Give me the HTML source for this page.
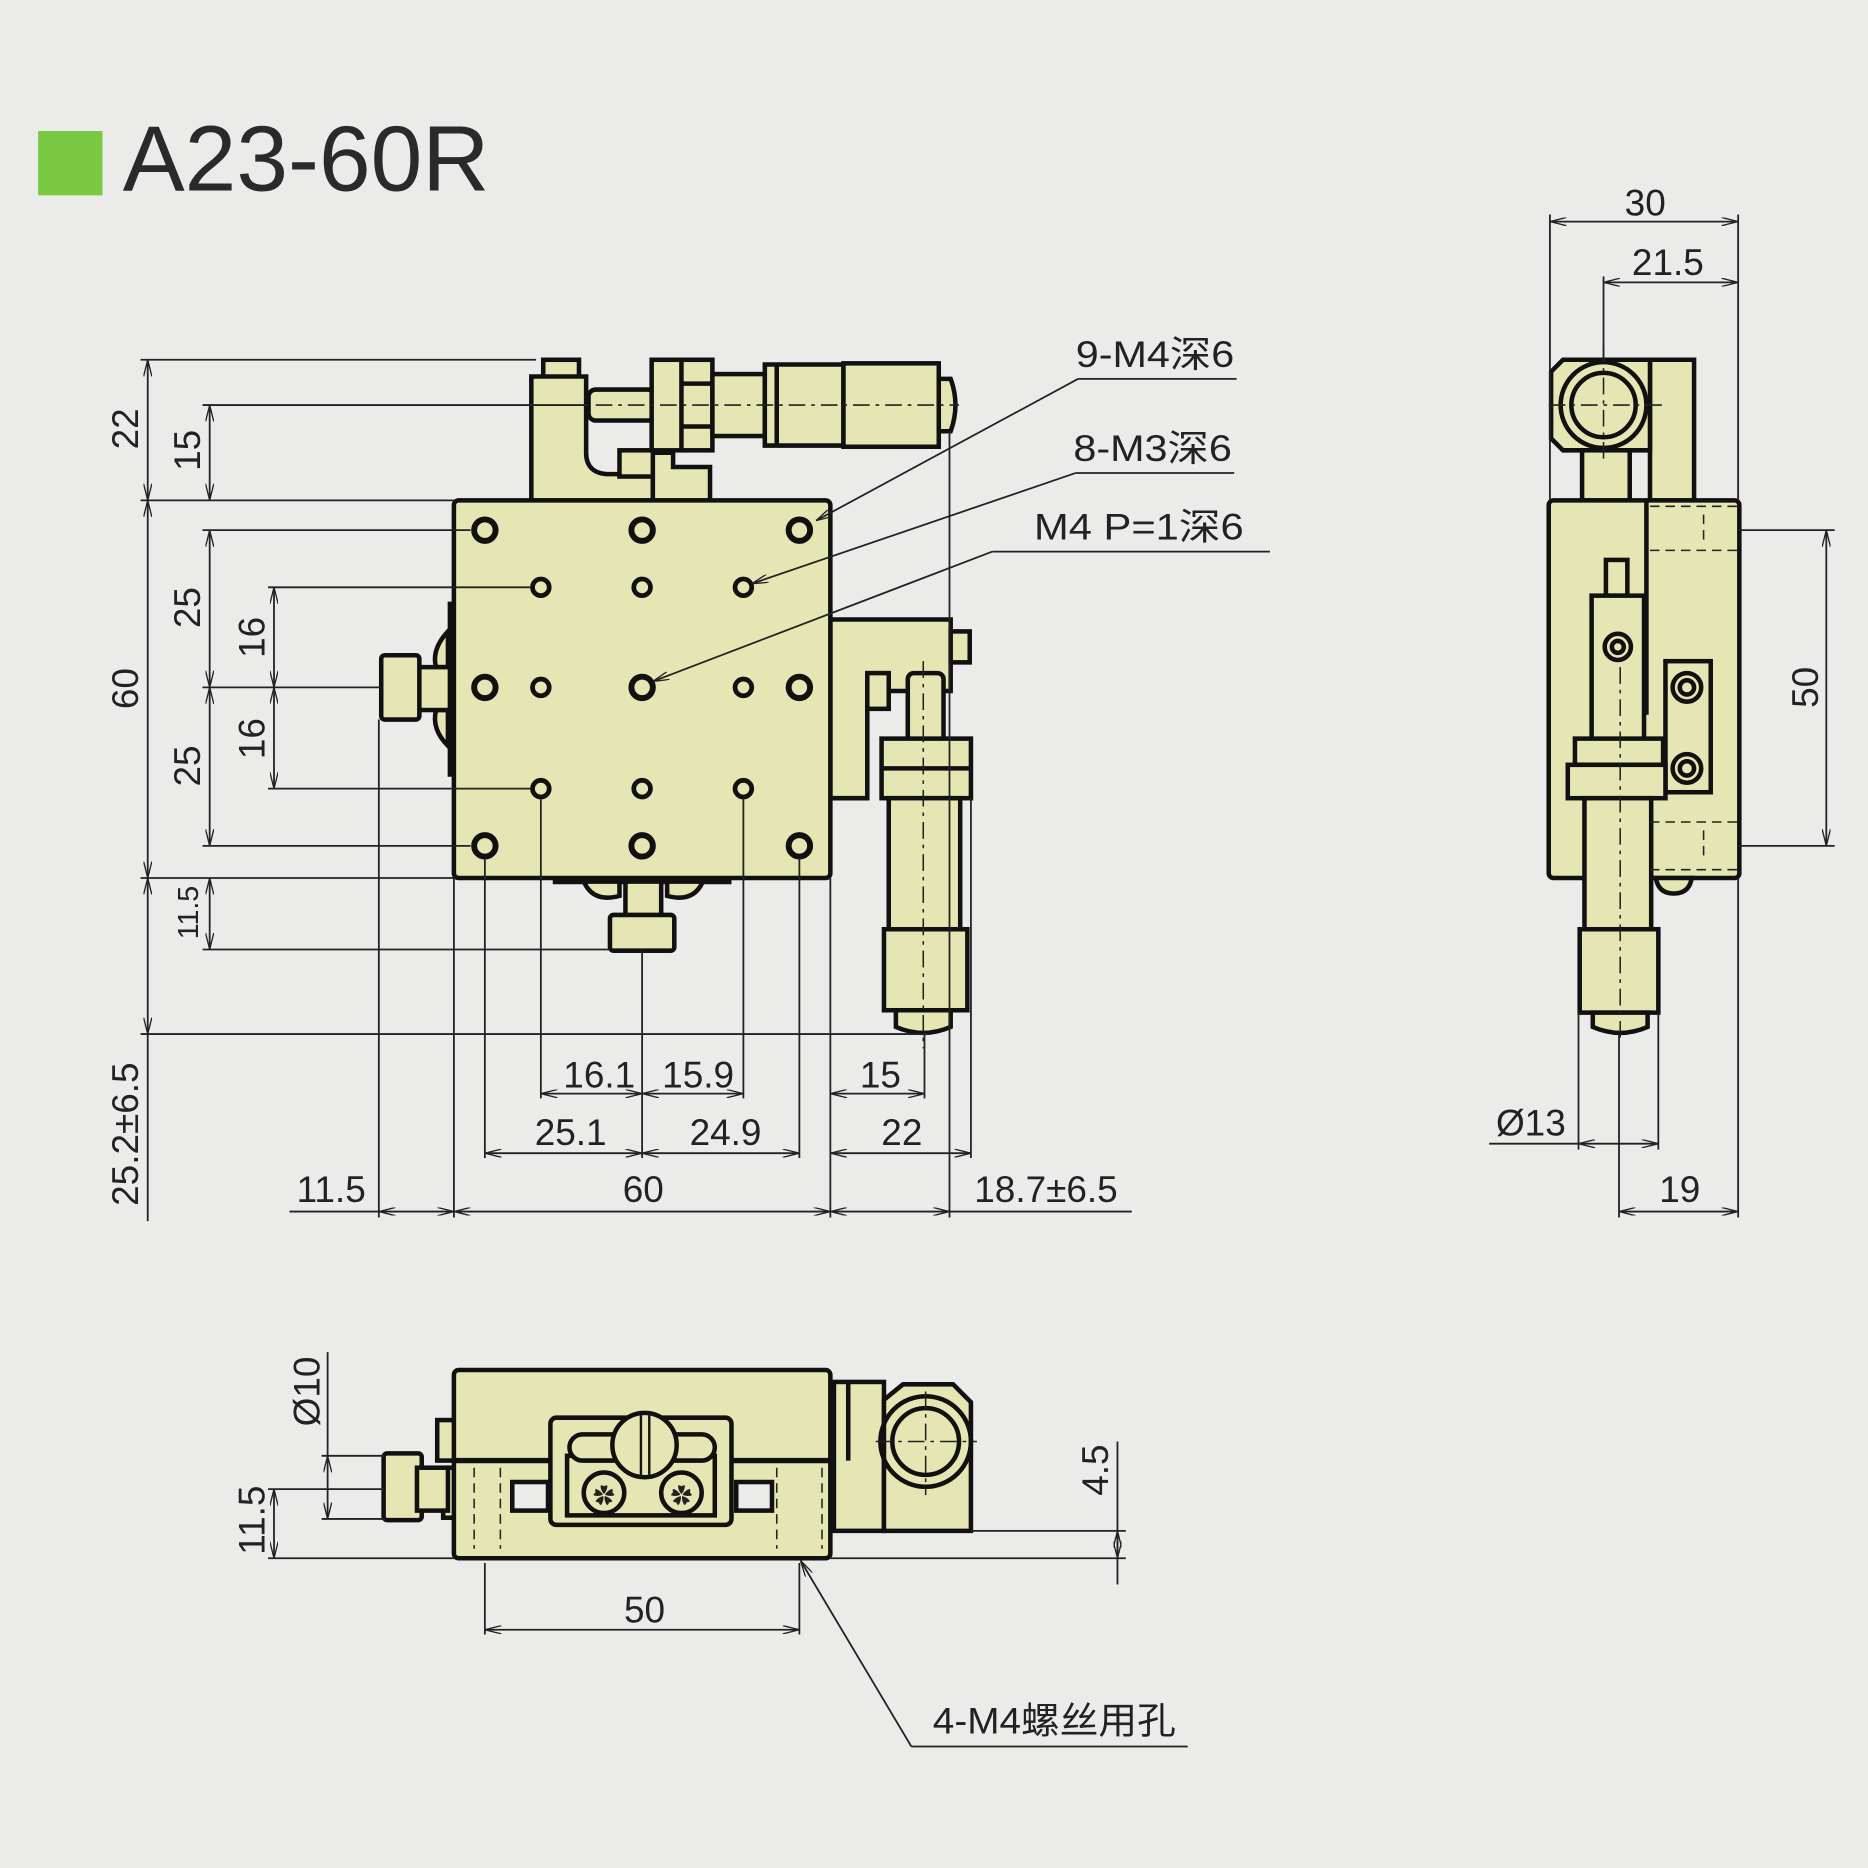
<!DOCTYPE html>
<html><head><meta charset="utf-8"><style>
html,body{margin:0;padding:0;background:#ebebe9;}
svg{display:block}
text{font-family:"Liberation Sans","Noto Sans CJK SC",sans-serif;fill:#222;font-size:31px}
.p{fill:#e6e6b4;stroke:#111;stroke-width:3.8}
.t{fill:none;stroke:#111;stroke-width:3.8}
.d{stroke:#222;stroke-width:1.5;fill:none}
.c{stroke:#222;stroke-width:1.3;fill:none;stroke-dasharray:14 5 3 5}
.h{stroke:#222;stroke-width:1.3;fill:none;stroke-dasharray:8 5}
.a{stroke:#222;stroke-width:1.5;fill:none;marker-start:url(#m);marker-end:url(#m)}
.l{stroke:#222;stroke-width:1.5;fill:none;marker-end:url(#m)}
</style></head><body>
<svg width="1868" height="1868" viewBox="0 0 1568 1568" xmlns="http://www.w3.org/2000/svg">
<defs><marker id="m" viewBox="0 0 20 10" refX="20" refY="5" markerWidth="14" markerHeight="7" orient="auto-start-reverse" markerUnits="userSpaceOnUse"><path d="M0,0 L20,5 L0,10" fill="none" stroke="#222" stroke-width="1.6"/></marker></defs>

<rect x="32" y="110" width="54" height="54" fill="#7ac943"/>
<text x="103" y="160" style="font-size:78px;fill:#2a2a2a">A23-60R</text>

<!-- ===== TOP VIEW ===== -->
<rect class="p" x="456" y="302" width="30" height="20"/>
<path class="p" d="M446,420 V316 H492 V380 Q492,398 512,398 H548 V420 Z"/>
<rect class="p" x="520" y="378" width="36" height="22"/>
<path class="p" d="M548,420 V380 H565 V392 H596 V420 Z"/>
<rect class="p" x="494" y="327" width="56" height="26" rx="6"/>
<rect class="p" x="547" y="302" width="51" height="76"/>
<line class="t" x1="572" y1="302" x2="572" y2="378"/>
<line class="t" x1="572" y1="322" x2="598" y2="322"/><line class="t" x1="572" y1="358" x2="598" y2="358"/>
<rect class="p" x="598" y="314" width="44" height="52"/>
<path class="p" d="M642,306 H708 V374 H642 Z"/>
<line class="t" x1="652" y1="306" x2="652" y2="374"/>
<rect class="p" x="708" y="305" width="80" height="70"/>
<path class="p" d="M788,318 H798 Q806,340 798,362 H788 Z"/>
<line class="c" x1="500" y1="340" x2="805" y2="340"/>

<path class="p" d="M697,520 H798 V580 H740 Q728,580 728,592 V670 H697 Z"/>
<rect class="p" x="798" y="530" width="16" height="26"/>
<rect class="p" x="728" y="565" width="18" height="30"/>
<rect class="p" x="762" y="565" width="30" height="60" rx="5"/>
<rect class="p" x="740" y="620" width="75" height="50"/>
<line class="t" x1="740" y1="645" x2="815" y2="645"/>
<rect class="p" x="746" y="670" width="60" height="112"/>
<rect class="p" x="742" y="780" width="70" height="68"/>
<path class="p" d="M752,848 H798 V862 Q775,872 752,862 Z"/>
<line class="c" x1="775" y1="555" x2="775" y2="880"/>

<path class="p" d="M376,530 V560 H366 Q362,545 376,530Z"/>
<path class="p" d="M376,596 V626 Q362,612 366,596 Z"/>
<rect class="p" x="350" y="560" width="30" height="36"/>
<rect class="p" x="320" y="550" width="32" height="54" rx="3"/>
<line class="t" x1="378" y1="505" x2="378" y2="652" style="stroke-width:4.5"/>
<line class="t" x1="464" y1="740" x2="614" y2="740" style="stroke-width:4.5"/>
<path class="p" d="M490,740 H520 V752 Q498,758 490,740Z"/>
<path class="p" d="M560,740 H590 Q582,758 560,752Z"/>
<rect class="p" x="525" y="740" width="30" height="30"/>
<rect class="p" x="512" y="768" width="54" height="30" rx="3"/>

<rect class="p" x="381" y="420" width="316" height="317" rx="4"/>
<g fill="none" stroke="#111" stroke-width="5">
<circle cx="407" cy="445" r="9"/><circle cx="539" cy="445" r="9"/><circle cx="671" cy="445" r="9"/>
<circle cx="407" cy="577" r="9"/><circle cx="539" cy="577" r="9"/><circle cx="671" cy="577" r="9"/>
<circle cx="407" cy="710" r="9"/><circle cx="539" cy="710" r="9"/><circle cx="671" cy="710" r="9"/>
</g>
<g fill="none" stroke="#111" stroke-width="4">
<circle cx="454" cy="493" r="7"/><circle cx="539" cy="493" r="7"/><circle cx="624" cy="493" r="7"/>
<circle cx="454" cy="577" r="7"/><circle cx="624" cy="577" r="7"/>
<circle cx="454" cy="662" r="7"/><circle cx="539" cy="662" r="7"/><circle cx="624" cy="662" r="7"/>
</g>

<g class="d">
<line x1="118" y1="302" x2="450" y2="302"/><line x1="118" y1="420" x2="381" y2="420"/>
<line x1="170" y1="340" x2="494" y2="340"/>
<line x1="170" y1="445" x2="395" y2="445"/><line x1="170" y1="710" x2="395" y2="710"/>
<line x1="170" y1="577" x2="320" y2="577"/>
<line x1="225" y1="493" x2="445" y2="493"/><line x1="225" y1="662" x2="445" y2="662"/>
<line x1="118" y1="737" x2="381" y2="737"/><line x1="170" y1="797" x2="512" y2="797"/>
<line x1="118" y1="868" x2="780" y2="868"/>
<line x1="318" y1="604" x2="318" y2="1022"/><line x1="381" y1="737" x2="381" y2="1022"/>
<line x1="407" y1="720" x2="407" y2="972"/><line x1="454" y1="670" x2="454" y2="922"/>
<line x1="539" y1="798" x2="539" y2="972"/><line x1="624" y1="670" x2="624" y2="922"/>
<line x1="671" y1="720" x2="671" y2="972"/><line x1="697" y1="737" x2="697" y2="1022"/>
<line x1="776" y1="868" x2="776" y2="922"/><line x1="797" y1="362" x2="797" y2="1022"/>
<line x1="815" y1="670" x2="815" y2="972"/>
<line x1="243" y1="1017" x2="318" y2="1017"/><line x1="797" y1="1017" x2="950" y2="1017"/>
<line x1="124" y1="868" x2="124" y2="1025"/>
</g>
<g class="a">
<line x1="124" y1="302" x2="124" y2="420"/><line x1="176" y1="340" x2="176" y2="420"/>
<line x1="124" y1="420" x2="124" y2="737"/>
<line x1="176" y1="445" x2="176" y2="577"/><line x1="176" y1="577" x2="176" y2="710"/>
<line x1="230" y1="493" x2="230" y2="577"/><line x1="230" y1="577" x2="230" y2="662"/>
<line x1="176" y1="737" x2="176" y2="797"/><line x1="124" y1="737" x2="124" y2="868"/>
<line x1="454" y1="918" x2="539" y2="918"/><line x1="539" y1="918" x2="624" y2="918"/>
<line x1="407" y1="968" x2="539" y2="968"/><line x1="539" y1="968" x2="671" y2="968"/>
<line x1="697" y1="918" x2="776" y2="918"/><line x1="697" y1="968" x2="815" y2="968"/>
<line x1="318" y1="1017" x2="381" y2="1017"/><line x1="381" y1="1017" x2="697" y2="1017"/>
<line x1="697" y1="1017" x2="797" y2="1017"/>
</g>
<g text-anchor="middle">
<text transform="translate(116,360) rotate(-90)">22</text>
<text transform="translate(168,378) rotate(-90)">15</text>
<text transform="translate(116,578) rotate(-90)">60</text>
<text transform="translate(168,510) rotate(-90)">25</text>
<text transform="translate(168,643) rotate(-90)">25</text>
<text transform="translate(222,535) rotate(-90)">16</text>
<text transform="translate(222,620) rotate(-90)">16</text>
<text transform="translate(166,766) rotate(-90)" style="font-size:24px">11.5</text>
<text transform="translate(116,952) rotate(-90)">25.2±6.5</text>
<text x="503" y="913">16.1</text><text x="586" y="913">15.9</text>
<text x="479" y="961">25.1</text><text x="609" y="961">24.9</text>
<text x="739" y="913">15</text><text x="757" y="961">22</text>
<text x="278" y="1009">11.5</text><text x="540" y="1009">60</text><text x="878" y="1009">18.7±6.5</text>
</g>
<g class="d"><line x1="905" y1="318" x2="1038" y2="318"/><line x1="903" y1="397" x2="1036" y2="397"/><line x1="833" y1="463" x2="1066" y2="463"/></g>
<g class="l"><line x1="905" y1="318" x2="685" y2="437"/><line x1="903" y1="397" x2="631" y2="490"/><line x1="833" y1="463" x2="548" y2="572"/></g>
<text x="903" y="308" textLength="133" lengthAdjust="spacingAndGlyphs">9-M4深6</text><text x="901" y="387" textLength="133" lengthAdjust="spacingAndGlyphs">8-M3深6</text><text x="868" y="453" textLength="176" lengthAdjust="spacingAndGlyphs">M4 P=1深6</text>

<!-- ===== SIDE VIEW ===== -->
<path class="p" d="M1385,302 H1422 V420 H1385 Z"/>
<path class="p" d="M1312,302 H1385 V378 H1312 L1302,368 V312 Z"/>
<circle class="t" cx="1346" cy="340" r="36"/><circle class="t" cx="1346" cy="340" r="27"/>
<rect class="p" x="1328" y="378" width="40" height="42"/>
<rect class="p" x="1300" y="420" width="160" height="317" rx="4"/>
<line class="t" x1="1382" y1="420" x2="1382" y2="600"/>
<rect class="p" x="1348" y="470" width="18" height="30"/>
<rect class="p" x="1336" y="500" width="44" height="125"/>
<circle class="t" cx="1358" cy="543" r="11"/><circle class="t" cx="1358" cy="543" r="5"/>
<rect class="p" x="1398" y="555" width="38" height="110"/>
<circle class="t" cx="1416" cy="577" r="12"/><circle class="t" cx="1416" cy="577" r="6"/>
<circle class="t" cx="1416" cy="645" r="12"/><circle class="t" cx="1416" cy="645" r="6"/>
<rect class="p" x="1322" y="620" width="74" height="22"/>
<rect class="p" x="1316" y="642" width="82" height="28"/>
<path class="p" d="M1390,737 H1420 Q1418,750 1405,750 Q1392,750 1390,737Z"/>
<rect class="p" x="1330" y="670" width="56" height="112"/>
<rect class="p" x="1326" y="780" width="66" height="70"/>
<path class="p" d="M1337,850 H1383 V862 Q1360,872 1337,862Z"/>
<line class="c" x1="1360" y1="560" x2="1360" y2="875"/>
<g class="h"><line x1="1385" y1="425" x2="1460" y2="425"/><line x1="1385" y1="462" x2="1460" y2="462"/><line x1="1430" y1="432" x2="1430" y2="455"/>
<line x1="1385" y1="690" x2="1460" y2="690"/><line x1="1385" y1="730" x2="1460" y2="730"/><line x1="1430" y1="697" x2="1430" y2="722"/></g>
<line class="c" x1="1346" y1="290" x2="1346" y2="390"/><line class="c" x1="1300" y1="340" x2="1395" y2="340"/>
<g class="d">
<line x1="1301" y1="180" x2="1301" y2="420"/><line x1="1459" y1="180" x2="1459" y2="420"/>
<line x1="1346" y1="232" x2="1346" y2="302"/>
<line x1="1460" y1="445" x2="1540" y2="445"/><line x1="1460" y1="710" x2="1540" y2="710"/>
<line x1="1325" y1="850" x2="1325" y2="965"/><line x1="1392" y1="850" x2="1392" y2="965"/>
<line x1="1250" y1="960" x2="1325" y2="960"/>
<line x1="1359" y1="868" x2="1359" y2="1022"/><line x1="1459" y1="737" x2="1459" y2="1022"/>
</g>
<g class="a">
<line x1="1301" y1="186" x2="1459" y2="186"/><line x1="1346" y1="237" x2="1459" y2="237"/>
<line x1="1533" y1="445" x2="1533" y2="710"/><line x1="1325" y1="960" x2="1392" y2="960"/>
<line x1="1359" y1="1017" x2="1459" y2="1017"/>
</g>
<g text-anchor="middle">
<text x="1381" y="181">30</text><text x="1400" y="231">21.5</text>
<text transform="translate(1526,577) rotate(-90)">50</text>
<text x="1285" y="953">Ø13</text><text x="1410" y="1009">19</text>
</g>

<!-- ===== FRONT VIEW ===== -->
<rect class="p" x="700" y="1160" width="42" height="125"/>
<line class="t" x1="712" y1="1160" x2="712" y2="1226"/>
<path class="p" d="M742,1285 V1175 L758,1162 H800 L815,1177 V1285 Z"/>
<circle class="t" cx="777" cy="1210" r="38"/><circle class="t" cx="777" cy="1210" r="28"/>
<line class="c" x1="735" y1="1210" x2="820" y2="1210"/><line class="c" x1="777" y1="1168" x2="777" y2="1255"/>
<rect class="p" x="367" y="1192" width="16" height="34"/>
<rect class="p" x="372" y="1232" width="14" height="42"/>
<rect class="p" x="322" y="1220" width="32" height="56" rx="3"/>
<rect class="p" x="350" y="1232" width="26" height="36"/>
<rect class="p" x="381" y="1150" width="316" height="158" rx="4"/>
<line class="t" x1="381" y1="1226" x2="697" y2="1226" style="stroke-width:4.5"/>
<rect class="t" x="430" y="1244" width="30" height="24" style="fill:#ebebe9"/>
<rect class="t" x="618" y="1244" width="30" height="24" style="fill:#ebebe9"/>
<rect class="p" x="462" y="1190" width="152" height="90" rx="5"/>
<rect class="p" x="476" y="1222" width="124" height="50"/>
<rect class="p" x="478" y="1204" width="122" height="22" rx="11"/>
<circle class="p" cx="541" cy="1213" r="27"/>
<line class="t" x1="538" y1="1188" x2="538" y2="1238" style="stroke-width:2"/><line class="t" x1="545" y1="1188" x2="545" y2="1238" style="stroke-width:2"/>
<circle class="p" cx="507" cy="1253" r="17"/><circle class="p" cx="572" cy="1253" r="17"/>
<text x="498" y="1262" style="font-size:18px">✿</text><text x="563" y="1262" style="font-size:18px">✿</text>
<g class="h">
<line x1="398" y1="1232" x2="398" y2="1300"/><line x1="420" y1="1232" x2="420" y2="1300"/>
<line x1="652" y1="1232" x2="652" y2="1300"/><line x1="690" y1="1232" x2="690" y2="1300"/>
</g>
<g class="d">
<line x1="270" y1="1222" x2="323" y2="1222"/><line x1="270" y1="1275" x2="323" y2="1275"/>
<line x1="225" y1="1250" x2="323" y2="1250"/><line x1="225" y1="1308" x2="381" y2="1308"/>
<line x1="815" y1="1285" x2="945" y2="1285"/><line x1="697" y1="1308" x2="945" y2="1308"/>
<line x1="407" y1="1312" x2="407" y2="1372"/><line x1="671" y1="1312" x2="671" y2="1372"/>
<line x1="938" y1="1210" x2="938" y2="1330"/>
<line x1="275" y1="1135" x2="275" y2="1222"/>
<line x1="765" y1="1466" x2="997" y2="1466"/>
</g>
<g class="a">
<line x1="275" y1="1222" x2="275" y2="1275"/><line x1="230" y1="1250" x2="230" y2="1308"/>
<line x1="938" y1="1285" x2="938" y2="1308"/><line x1="407" y1="1368" x2="671" y2="1368"/>
</g>
<line class="l" x1="765" y1="1466" x2="672" y2="1310"/>
<g text-anchor="middle">
<text transform="translate(268,1168) rotate(-90)">Ø10</text>
<text transform="translate(222,1276) rotate(-90)">11.5</text>
<text transform="translate(930,1234) rotate(-90)">4.5</text>
<text x="541" y="1362">50</text>
</g>
<text x="783" y="1455" textLength="204" lengthAdjust="spacingAndGlyphs">4-M4螺丝用孔</text>
</svg>
</body></html>
